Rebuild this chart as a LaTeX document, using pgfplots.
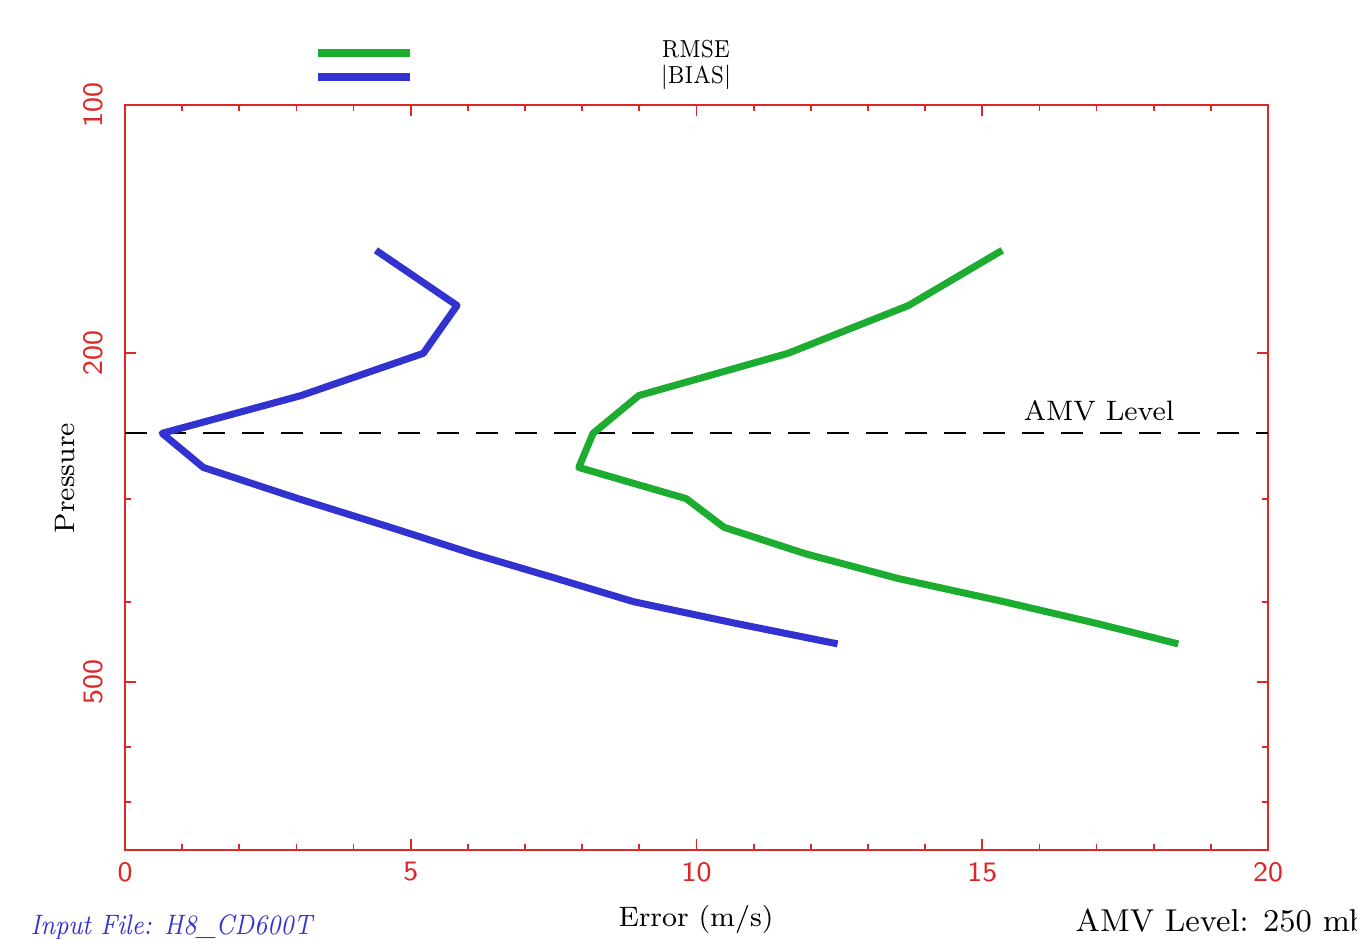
\documentclass[border=0pt]{standalone}
\usepackage{pgfplots}
\usepackage{graphicx}
\pgfplotsset{compat=1.18}
\definecolor{axred}{RGB}{222,40,40}
\definecolor{rmsegreen}{RGB}{28,172,48}
\definecolor{biasblue}{RGB}{50,50,208}
\begin{document}
\begin{tikzpicture}[x=1mm,y=1mm]
\path[use as bounding box] (-12.5,-8.8) rectangle (123.2,85.0);
\begin{axis}[
  at={(0,0)}, anchor=south west,
  scale only axis, width=114.3mm, height=74.5mm,
  xmin=0, xmax=20, ymin=100, ymax=800,
  ymode=log, y dir=reverse,
  axis line style={axred, line width=0.6pt},
  xtick={0,5,10,15,20}, minor x tick num=4,
  ytick={100,200,500}, yticklabels={100,200,500},
  minor ytick={300,400,600,700},
  tick align=inside,
  tick style={axred, line width=0.5pt},
  major tick length=1.1mm, minor tick length=0.6mm,
  /pgf/number format/assume math mode=true,
  xticklabel style={text=axred, font=\footnotesize\sffamily},
  yticklabel style={text=axred, font=\footnotesize\sffamily, rotate=90, anchor=south},
  yticklabel shift=0.9mm,
  clip=false,
]
\addplot[black, line width=0.5pt, dash pattern=on 2.2mm off 1.7mm] coordinates {(0,250) (20,250)};
\addplot[rmsegreen, line width=2pt, line join=round] coordinates {
 (15.35,150) (13.71,175) (11.60,200) (8.99,225) (8.19,250) (7.94,275)
 (9.82,300) (10.48,325) (11.91,350) (13.53,375) (15.38,400) (17.00,425) (18.43,450)};
\addplot[biasblue, line width=2pt, line join=round] coordinates {
 (4.39,150) (5.81,175) (5.22,200) (3.08,225) (0.65,250) (1.37,275)
 (3.03,300) (4.64,325) (6.09,350) (7.55,375) (8.90,400) (10.69,425) (12.47,450)};
\end{axis}
% legend
\draw[rmsegreen, line width=2pt] (19.3,79.7) -- (28.5,79.7);
\draw[biasblue, line width=2pt] (19.3,77.3) -- (28.5,77.3);
\node[inner sep=0pt, font=\scriptsize] at (57.1,80.1) {\scalebox{0.85}[1.0]{RMSE}};
\node[inner sep=0pt, font=\scriptsize] at (57.1,77.3) {\scalebox{0.85}[1.0]{$|$BIAS$|$}};
% texts
\node[inner sep=0pt, font=\footnotesize] at (97.4,43.9) {AMV Level};
\node[inner sep=0pt, font=\footnotesize, rotate=90] at (-6,37.2) {Pressure};
\node[inner sep=0pt, font=\footnotesize] at (57.1,-6.9) {Error (m/s)};
\node[inner sep=0pt, font=\footnotesize\itshape, text=biasblue, anchor=west] at (-9.5,-7.7) {\scalebox{0.86}[1]{Input File: H8\_CD600T}};
\node[inner sep=0pt, font=\small, anchor=base west] at (95,-8.1) {AMV Level: 250 mb};
\end{tikzpicture}
\end{document}
